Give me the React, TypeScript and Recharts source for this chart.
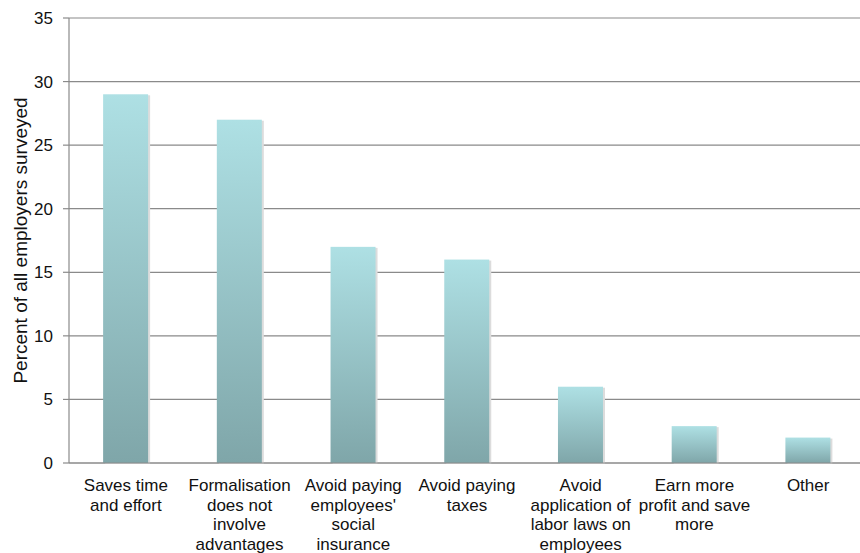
import React from 'react';
import { Bar, BarChart, CartesianGrid, XAxis, YAxis } from 'recharts';

// reasons for not formalising employment
const categories = [
  'Saves time and effort',
  'Formalisation does not involve advantages',
  "Avoid paying employees' social insurance",
  'Avoid paying taxes',
  'Avoid application of labor laws on employees',
  'Earn more profit and save more',
  'Other',
];
const tickLines = [
  ['Saves time', 'and effort'],
  ['Formalisation', 'does not', 'involve', 'advantages'],
  ['Avoid paying', "employees'", 'social', 'insurance'],
  ['Avoid paying', 'taxes'],
  ['Avoid', 'application of', 'labor laws on', 'employees'],
  ['Earn more', 'profit and save', 'more'],
  ['Other'],
];
const percent = [29, 27, 17, 16, 6, 2.9, 2];
const yTicks = [0, 5, 10, 15, 20, 25, 30, 35];

const data = categories.map((name, i) => ({ name, idx: i, value: percent[i] }));

const FONT = 'Liberation Sans, Arial, sans-serif';

const CustomTick = (props: any) => {
  const { x, y, index } = props;
  const lines = tickLines[index] || [];
  return (
    <g transform={`translate(${x},${y})`}>
      {lines.map((l, i) => (
        <text
          key={i}
          x={0}
          y={20 + i * 19.5}
          textAnchor="middle"
          fontSize={17}
          fontFamily={FONT}
          fill="#111"
        >
          {l}
        </text>
      ))}
    </g>
  );
};

const ShadowBar = (props: any) => {
  const { x, y, width, height } = props;
  if (!height || height <= 0) return null;
  return (
    <g>
      <rect x={x + 2} y={y + 1} width={width} height={height} fill="#dcdcdc" />
      <rect x={x} y={y} width={width} height={height} fill="url(#barFill)" />
    </g>
  );
};

const App = () => {
  return (
    <div style={{ position: 'absolute', left: 0, top: 0, width: 860, height: 553, overflow: 'hidden', background: '#fff' }}>
      <BarChart
        width={880}
        height={553}
        data={data}
        margin={{ top: 18, right: 15, bottom: 0, left: 0 }}
        barCategoryGap="30%"
      >
        <defs>
          <linearGradient id="barFill" x1="0" y1="0" x2="0" y2="1">
            <stop offset="0%" stopColor="#aee0e4" />
            <stop offset="100%" stopColor="#7fa6a9" />
          </linearGradient>
        </defs>
        <CartesianGrid vertical={false} stroke="#8a8a8a" strokeWidth={1.2} />
        <XAxis
          dataKey="name"
          interval={0}
          tick={<CustomTick />}
          tickLine={false}
          axisLine={{ stroke: '#8a8a8a', strokeWidth: 1.2 }}
          height={90}
        />
        <YAxis
          domain={[0, 35]}
          ticks={yTicks}
          width={69}
          tickSize={6}
          tickMargin={10}
          tick={{ fontSize: 17, fontFamily: FONT, fill: '#111' }}
          axisLine={{ stroke: '#8a8a8a', strokeWidth: 1.2 }}
          tickLine={{ stroke: '#8a8a8a', strokeWidth: 1.2 }}
          label={{
            value: 'Percent of all employers surveyed',
            angle: -90,
            position: 'insideLeft',
            offset: 20,
            style: { textAnchor: 'middle', fontSize: 19, fontFamily: FONT, fill: '#111' },
          }}
        />
        <Bar dataKey="value" shape={<ShadowBar />} isAnimationActive={false} />
      </BarChart>
    </div>
  );
};

export default App;
